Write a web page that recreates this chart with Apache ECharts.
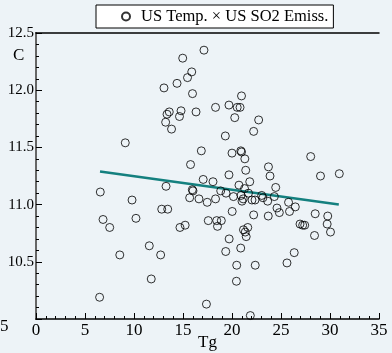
<!DOCTYPE html>
<html>
<head>
<meta charset="utf-8">
<script src="https://cdn.jsdelivr.net/npm/echarts@6/dist/echarts.min.js"></script>
<style>
  html, body { margin: 0; padding: 0; background: #edf3f7; }
  #main { width: 392px; height: 353px; }
</style>
</head>
<body>
<div id="main"></div>
<script>
// 数据：Tg（x）和 C（y）
var tgValues = [
  17.14, 14.97, 15.89, 15.46, 14.39, 13.06, 15.97, 20.97, 18.32, 19.69,
  20.53, 20.82, 13.60, 14.80, 16.33, 13.37, 14.64, 20.28, 22.72, 13.23,
  13.83, 22.21, 9.11, 19.32, 16.87, 20.00, 20.90, 20.97, 21.31, 28.03,
  15.77, 21.40, 23.72, 19.69, 23.88, 29.03, 30.95, 17.06, 18.06, 21.81,
  13.27, 20.71, 21.28, 15.95, 16.02, 18.85, 19.39, 21.68, 24.46, 6.56,
  20.15, 20.92, 21.14, 21.02, 15.68, 16.63, 18.32, 17.47, 22.04, 22.35,
  23.03, 23.16, 24.32, 23.64, 25.77, 26.46, 24.59, 24.83, 25.87, 28.49,
  29.77, 29.71, 30.05, 28.42, 26.94, 27.21, 27.42, 26.35, 25.61, 22.37,
  20.48, 20.02, 22.21, 23.70, 9.80, 12.83, 13.44, 6.84, 7.52, 10.20,
  17.58, 18.44, 18.91, 18.52, 15.22, 14.69, 21.61, 21.17, 21.35, 21.45,
  19.71, 11.56, 8.55, 12.72, 19.36, 20.89, 11.76, 20.45, 6.49, 17.39,
  21.87
];
var cValues = [
  12.35, 12.28, 12.16, 12.11, 12.06, 12.02, 11.97, 11.95, 11.85, 11.87,
  11.85, 11.85, 11.81, 11.82, 11.81, 11.79, 11.77, 11.76, 11.74, 11.72,
  11.66, 11.64, 11.54, 11.60, 11.47, 11.45, 11.47, 11.46, 11.40, 11.42,
  11.35, 11.30, 11.33, 11.26, 11.25, 11.25, 11.27, 11.22, 11.20, 11.20,
  11.16, 11.17, 11.14, 11.13, 11.12, 11.12, 11.10, 11.10, 11.15, 11.11,
  11.07, 11.08, 11.05, 11.03, 11.06, 11.05, 11.05, 11.02, 11.04, 11.04,
  11.08, 11.06, 11.07, 11.03, 11.02, 10.98, 10.97, 10.93, 10.94, 10.92,
  10.90, 10.83, 10.76, 10.73, 10.83, 10.82, 10.82, 10.58, 10.49, 10.47,
  10.47, 10.94, 10.91, 10.90, 11.04, 10.96, 10.96, 10.87, 10.80, 10.88,
  10.86, 10.86, 10.86, 10.81, 10.82, 10.80, 10.80, 10.78, 10.76, 10.72,
  10.70, 10.64, 10.56, 10.56, 10.59, 10.62, 10.35, 10.33, 10.19, 10.13,
  10.03
];
// 回归线两端
var fitX = [6.53, 30.9];
var fitY = [11.29, 11.0];
var xTicks = [0, 5, 10, 15, 20, 25, 30, 35];
var yTicks = [10.5, 11.0, 11.5, 12.0, 12.5];

var scatterData = tgValues.map(function (x, i) { return [x, cValues[i]]; });
var fitData = fitX.map(function (x, i) { return [x, fitY[i]]; });

var serif = "'Liberation Serif', 'DejaVu Serif', serif";
var myChart = echarts.init(document.getElementById("main"));

myChart.setOption({
  backgroundColor: "#edf3f7",
  animation: false,
  textStyle: { fontFamily: serif },
  legend: {
    data: [{ name: "US Temp. \u00d7 US SO2 Emiss.", icon: "circle" }],
    left: 96,
    top: 5,
    padding: [3, 5, 3, 25],
    itemWidth: 8,
    itemHeight: 8,
    itemGap: 4,
    backgroundColor: "#ffffff",
    borderColor: "#000000",
    borderWidth: 1,
    borderRadius: 0,
    textStyle: { fontFamily: serif, fontSize: 16.5, color: "#000", padding: [0, 0, 0, 6] }
  },
  grid: { left: 36, right: 13, top: 33, bottom: 34, containLabel: false, outerBoundsMode: "none" },
  xAxis: [
    {
      type: "value",
      min: xTicks[0],
      max: xTicks[xTicks.length - 1],
      interval: 5,
      name: "Tg",
      nameLocation: "middle",
      nameGap: 15,
      nameMoveOverlap: false,
      nameTextStyle: { fontFamily: serif, fontSize: 17, color: "#000" },
      axisLine: { lineStyle: { color: "#000", width: 1.5 } },
      axisTick: { inside: true, length: 6, lineStyle: { color: "#000" } },
      minorTick: { show: true, splitNumber: 5, length: 3, lineStyle: { color: "#000" } },
      axisLabel: { fontFamily: serif, fontSize: 17, color: "#000", margin: 3 },
      splitLine: { show: false }
    },
    {
      type: "value",
      position: "top",
      min: 0,
      max: 35,
      axisLine: { show: true, lineStyle: { color: "#000", width: 1.5 } },
      axisTick: { show: false },
      axisLabel: { show: false },
      splitLine: { show: false }
    }
  ],
  yAxis: [
    {
      type: "value",
      min: 10,
      max: yTicks[yTicks.length - 1],
      interval: 0.5,
      axisLine: { show: true, lineStyle: { color: "#000", width: 1.5 } },
      axisTick: { inside: true, length: 6, lineStyle: { color: "#000" } },
      minorTick: { show: true, splitNumber: 5, length: 3, lineStyle: { color: "#000" } },
      axisLabel: {
        fontFamily: serif, fontSize: 15, color: "#000", margin: 2,
        showMinLabel: false,
        formatter: function (v) { return v.toFixed(1); }
      },
      splitLine: { show: false }
    },
    {
      type: "value",
      position: "right",
      min: 10,
      max: 12.5,
      axisLine: { show: true, lineStyle: { color: "#666", width: 2 } },
      axisTick: { show: false },
      axisLabel: { show: false },
      splitLine: { show: false }
    }
  ],
  graphic: [
    {
      type: "text",
      left: 13,
      top: 47,
      style: { text: "C", font: "17px " + serif, fill: "#000" }
    },
    {
      type: "text",
      left: 0,
      top: 318,
      style: { text: "5", font: "17px " + serif, fill: "#000" }
    }
  ],
  series: [
    {
      name: "US Temp. \u00d7 US SO2 Emiss.",
      type: "scatter",
      symbol: "circle",
      symbolSize: 8,
      data: scatterData,
      itemStyle: { color: "transparent", borderColor: "#000", borderWidth: 1 },
      z: 3
    },
    {
      name: "fit",
      type: "line",
      data: fitData,
      showSymbol: false,
      symbol: "none",
      lineStyle: { color: "#14807f", width: 2.5 },
      z: 2
    }
  ]
});
</script>
</body>
</html>
